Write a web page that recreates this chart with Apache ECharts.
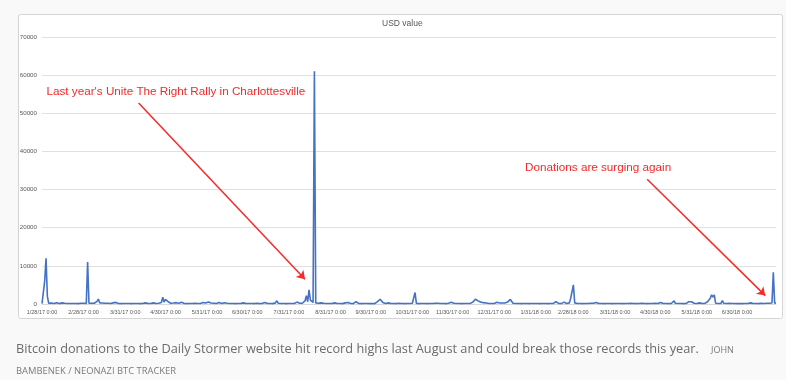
<!DOCTYPE html>
<html>
<head>
<meta charset="utf-8">
<script src="https://cdn.jsdelivr.net/npm/echarts@6/dist/echarts.min.js"></script>
<style>
html,body{margin:0;padding:0;background:#f9f9f9;}
#chart{width:786px;height:380px;}
</style>
</head>
<body>
<div id="chart"></div>
<script>
// Daily USD value of donations, one array per month (first day: 1/28/17)
const jan17 = [100, 500, 6000, 12000];
const feb17 = [2000,200,150,250,180,120,200,350,150,100,180,300,120,200,380,150,250,120,100,150,200,120,180,90,150,200,120,180];
const mar17 = [150,120,11000,200,150,180,120,200,250,700,1300,300,200,250,150,180,120,200,150,120,180,300,450,420,200,120,150,100,120,150,100];
const apr17 = [120,100,150,120,100,180,120,100,150,120,100,120,150,200,300,150,120,100,150,200,300,150,120,180,200,250,400,1750,500,1200];
const may17 = [1000,600,300,200,150,250,200,350,500,200,150,450,200,150,120,100,150,120,100,150,120,200,400,150,200,120,150,400,180,250,200];
const jun17 = [500,200,250,600,200,150,120,300,400,150,120,200,350,600,200,150,120,100,150,120,100,120,150,100,120,150,300,150,120,100];
const jul17 = [120,100,150,120,100,150,200,120,100,150,120,150,400,150,120,100,150,120,100,150,300,850,200,150,120,100,150,120,100,150,120];
const aug17 = [150,120,100,150,200,500,150,200,500,200,300,800,2200,600,3700,1000,1400,400,61000,300,500,200,150,300,700,200,150,120,150,120,100];
const sep17 = [150,120,300,150,120,100,150,120,100,200,300,600,400,200,150,120,100,300,600,200,150,120,100,150,120,100,120,150,100,120];
const oct17 = [150,120,100,300,600,1000,1250,800,400,200,150,120,300,150,120,100,150,120,100,150,200,500,150,120,100,150,120,100,150,120,200];
const nov17 = [150,3000,150,120,100,150,120,100,150,120,100,150,120,100,150,120,200,300,200,150,120,100,150,120,100,150,200,350,450,200];
const dec17 = [200,150,120,100,150,120,100,150,120,100,150,400,150,200,500,900,1250,1000,800,650,500,400,350,300,250,200,150,120,150,120,150];
const jan18 = [500,450,300,250,300,250,200,250,300,500,800,1200,1650,200,150,120,100,150,120,100,150,120,100,150,120,100,150,120,100,150,120];
const feb18 = [150,120,100,150,120,100,150,120,100,150,120,100,150,200,600,200,150,120,100,200,500,150,120,100,300,1500,2000,5000];
const mar18 = [300,150,120,100,150,120,100,150,120,100,150,120,200,600,200,150,400,150,120,100,150,120,100,150,120,100,150,120,100,150,120];
const apr18 = [150,120,100,150,120,100,150,120,100,150,120,200,400,150,120,100,150,120,100,200,300,150,120,100,150,120,100,150,120,200];
const may18 = [150,120,100,400,150,120,100,150,120,100,150,120,200,800,200,150,120,100,150,120,100,150,120,300,600,950,600,350,200,150,120];
const jun18 = [150,300,150,120,250,150,300,600,1000,1500,2400,1800,2400,200,150,120,100,150,870,200,150,120,500,200,150,120,300,150,120,100];
const jul18 = [300,150,120,100,150,120,100,150,200,300,150,120,100,150,120,100,150,200,300,150,120,200,250,200,300,250,8300,200,250];

const tickLabels = ['1/28/17 0:00','2/28/17 0:00','3/31/17 0:00','4/30/17 0:00','5/31/17 0:00','6/30/17 0:00',
  '7/31/17 0:00','8/31/17 0:00','9/30/17 0:00','10/31/17 0:00','11/30/17 0:00','12/31/17 0:00',
  '1/31/18 0:00','2/28/18 0:00','3/31/18 0:00','4/30/18 0:00','5/31/18 0:00','6/30/18 0:00'];

const seriesName = 'USD value';
const annotationTexts = ["Last year's Unite The Right Rally in Charlottesville", 'Donations are surging again'];
// arrow endpoints in data space: [day index, USD]
const arrow1 = [[72, 52700], [196, 6500]];
const arrow2 = [[451, 32700], [539, 2200]];
const captionMain = 'Bitcoin donations to the Daily Stormer website hit record highs last August and could break those records this year.';
const captionCredit1 = 'JOHN';
const captionCredit2 = 'BAMBENEK / NEONAZI BTC TRACKER';

const values = [].concat(jan17,feb17,mar17,apr17,may17,jun17,jul17,aug17,sep17,oct17,nov17,dec17,jan18,feb18,mar18,apr18,may18,jun18,jul18);
const start = Date.UTC(2017,0,28);
const categories = values.map(function(_, i){
  const d = new Date(start + i*86400000);
  return (d.getUTCMonth()+1) + '/' + d.getUTCDate() + '/' + String(d.getUTCFullYear()).slice(2) + ' 0:00';
});

const chart = echarts.init(document.getElementById('chart'), null, {renderer:'canvas'});
const labelColor = '#595959';
const red = '#f52a2a';

chart.setOption({
  backgroundColor: '#f9f9f9',
  animation: false,
  grid: {left: 42, right: 10, top: 37, bottom: 76, containLabel: false},
  xAxis: {
    type: 'category',
    data: categories,
    boundaryGap: false,
    axisTick: {show: false},
    axisLine: {show: true, lineStyle: {color: '#d9d9d9', width: 1}},
    axisLabel: {
      interval: function(idx, val){ return tickLabels.indexOf(val) >= 0; },
      color: labelColor, fontSize: 5.5, fontFamily: 'Liberation Sans', margin: 5
    },
    splitLine: {show: false}
  },
  yAxis: {
    type: 'value', min: 0, max: 70000, interval: 10000,
    axisLine: {show: false}, axisTick: {show: false},
    axisLabel: {color: labelColor, fontSize: 6.2, fontFamily: 'Liberation Sans', margin: 5,
      formatter: function(v){ return String(v); }},
    splitLine: {lineStyle: {color: '#e0e0e0', width: 1}}
  },
  series: [{
    name: seriesName,
    type: 'line',
    data: values,
    symbol: 'none',
    lineStyle: {color: '#4472c4', width: 1.6},
    itemStyle: {color: '#4472c4'},
    z: 3,
    markLine: {
      silent: true,
      symbol: ['none', 'arrow'],
      symbolSize: 8,
      label: {show: false},
      lineStyle: {color: red, width: 1.5, type: 'solid'},
      emphasis: {disabled: true},
      data: [
        [{coord: arrow1[0]}, {coord: arrow1[1]}],
        [{coord: arrow2[0]}, {coord: arrow2[1]}]
      ]
    }
  }],
  graphic: [
    {type: 'rect', z: -10, shape: {x: 18.5, y: 14.5, width: 764, height: 304, r: 2},
      style: {fill: '#ffffff', stroke: '#d4d4d4', lineWidth: 1}},
    {type: 'text', left: 382, top: 19, style: {text: seriesName, fill: labelColor, font: '8.5px "Liberation Sans"'}},
    {type: 'text', left: 46.5, top: 86, style: {text: annotationTexts[0], fill: red, font: '11.7px "Liberation Sans"'}},
    {type: 'text', left: 525, top: 162, style: {text: annotationTexts[1], fill: red, font: '11.7px "Liberation Sans"'}},
    {type: 'text', left: 16, top: 343, style: {text: captionMain, fill: '#6b6b6b', font: '12.75px "Open Sans"'}},
    {type: 'text', left: 711, top: 346, style: {text: captionCredit1, fill: '#7a7a7a', font: '9px "Open Sans"'}},
    {type: 'text', left: 16, top: 367, style: {text: captionCredit2, fill: '#7a7a7a', font: '9.4px "Open Sans"'}}
  ]
});
</script>
</body>
</html>
